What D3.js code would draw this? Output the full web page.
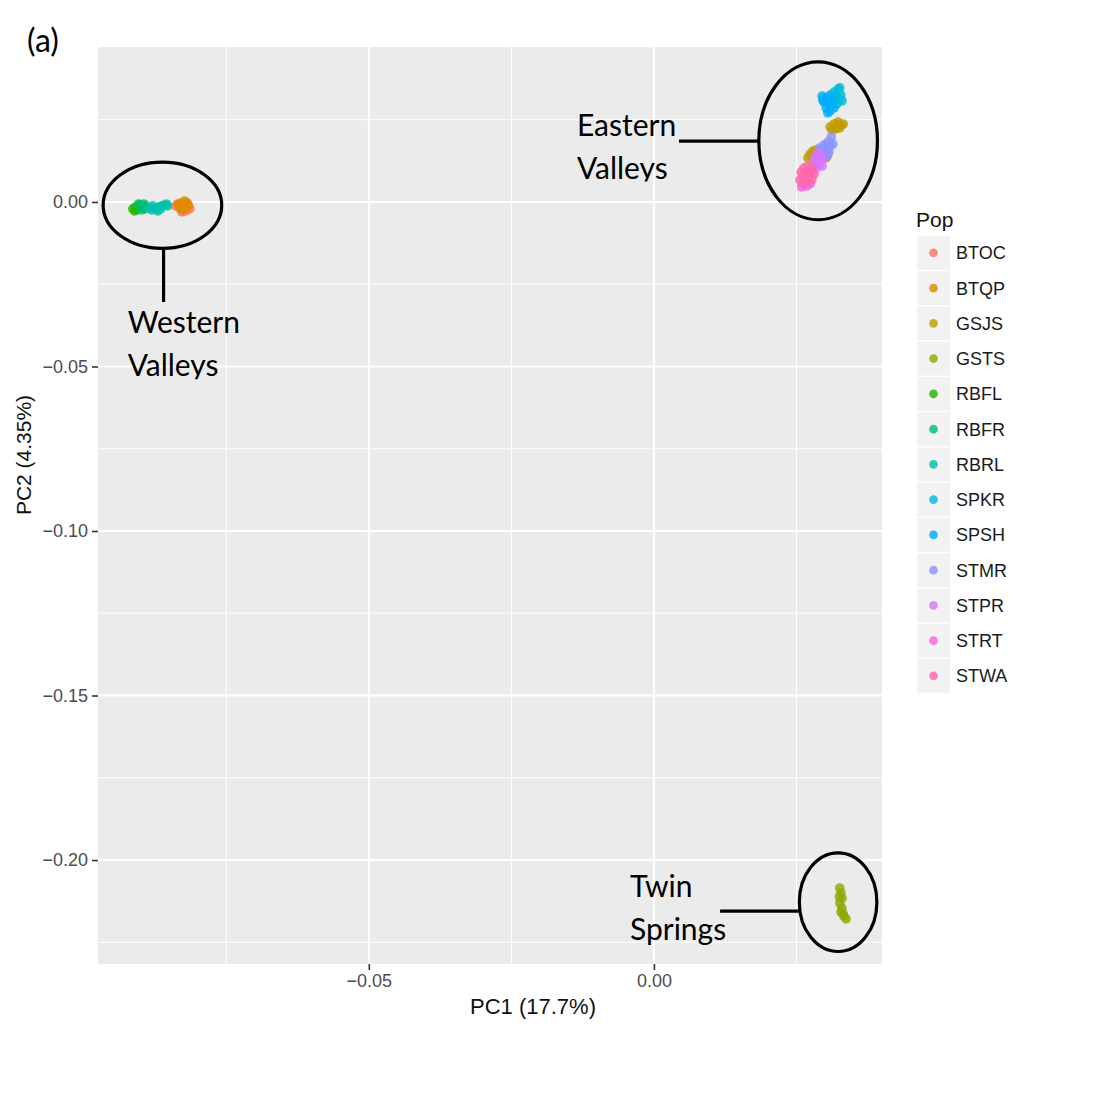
<!DOCTYPE html>
<html>
<head>
<meta charset="utf-8">
<script src="https://cdn.jsdelivr.net/npm/d3@7"></script>
<style>
  body { margin: 0; background: #fff; }
  svg { display: block; }
</style>
</head>
<body>
<svg id="chart" width="1110" height="1106"></svg>
<script>
// ---------------- DATA ----------------
const pops = ["BTOC","BTQP","GSJS","GSTS","RBFL","RBFR","RBRL","SPKR","SPSH","STMR","STPR","STRT","STWA"];
const popColors = ["#F8766D","#E18A00","#BE9C00","#8CAB00","#24B700","#00BE70","#00C1AB","#00BBDA","#00ACFC","#8B93FF","#D575FE","#F962DD","#FF65AC"];

// PC1 / PC2 scores per population
const BTOC_pc1 = [-0.0839,-0.0814,-0.0821,-0.0828];
const BTOC_pc2 = [-0.0012,-0.0021,-0.0027,-0.0030];
const BTQP_pc1 = [-0.0835,-0.0830,-0.0825,-0.0819,-0.0816,-0.0832,-0.0826,-0.0821,-0.0818,-0.0823];
const BTQP_pc2 = [-0.0006,-0.0003,-0.0009,-0.0003,-0.0012,-0.0018,-0.0024,-0.0018,-0.0006,0.0003];
const GSJS_pc1 = [0.0309,0.0316,0.0323,0.0328,0.0332,0.0319,0.0326,0.0312,0.0274,0.0279,0.0284,0.0270,0.0277,0.0288,0.0291,0.0302,0.0305,0.0281];
const GSJS_pc2 = [0.0228,0.0237,0.0243,0.0234,0.0237,0.0222,0.0225,0.0219,0.0146,0.0155,0.0158,0.0134,0.0134,0.0146,0.0140,0.0134,0.0143,0.0125];
const GSTS_pc1 = [0.0326,0.0328,0.0330,0.0326,0.0330,0.0328,0.0333,0.0337,0.0332,0.0325];
const GSTS_pc2 = [-0.2085,-0.2100,-0.2116,-0.2131,-0.2146,-0.2158,-0.2170,-0.2179,-0.2164,-0.2112];
const RBFL_pc1 = [-0.0914,-0.0909,-0.0904,-0.0907,-0.0900,-0.0911];
const RBFL_pc2 = [-0.0021,-0.0015,-0.0018,-0.0024,-0.0012,-0.0027];
const RBFR_pc1 = [-0.0902,-0.0896,-0.0891,-0.0898,-0.0893,-0.0904,-0.0895];
const RBFR_pc2 = [-0.0009,-0.0015,-0.0012,-0.0024,-0.0021,-0.0006,-0.0006];
const RBRL_pc1 = [-0.0884,-0.0879,-0.0874,-0.0868,-0.0863,-0.0858,-0.0853,-0.0870,-0.0865,-0.0855,-0.0881];
const RBRL_pc2 = [-0.0018,-0.0012,-0.0021,-0.0015,-0.0012,-0.0009,-0.0012,-0.0027,-0.0021,-0.0006,-0.0024];
const SPKR_pc1 = [0.0316,0.0323,0.0326,0.0319,0.0325,0.0328,0.0314,0.0321,0.0330];
const SPKR_pc2 = [0.0334,0.0343,0.0347,0.0322,0.0313,0.0325,0.0310,0.0298,0.0307];
const SPSH_pc1 = [0.0295,0.0302,0.0309,0.0298,0.0305,0.0312,0.0302,0.0309,0.0305,0.0316,0.0296];
const SPSH_pc2 = [0.0322,0.0316,0.0325,0.0304,0.0298,0.0304,0.0286,0.0277,0.0271,0.0286,0.0310];
const STMR_pc1 = [0.0311,0.0305,0.0298,0.0309,0.0314,0.0302,0.0295,0.0307,0.0298,0.0291,0.0304];
const STMR_pc2 = [0.0198,0.0182,0.0173,0.0170,0.0176,0.0161,0.0158,0.0152,0.0146,0.0164,0.0140];
const STPR_pc1 = [0.0286,0.0293,0.0282,0.0289,0.0296,0.0279,0.0288,0.0295,0.0284,0.0291];
const STPR_pc2 = [0.0149,0.0143,0.0134,0.0128,0.0128,0.0119,0.0112,0.0109,0.0103,0.0119];
const STRT_pc1 = [0.0261,0.0268,0.0265,0.0274,0.0259];
const STRT_pc2 = [0.0055,0.0049,0.0064,0.0055,0.0046];
const STWA_pc1 = [0.0263,0.0270,0.0277,0.0258,0.0267,0.0274,0.0281,0.0261,0.0270,0.0277,0.0267,0.0256];
const STWA_pc2 = [0.0103,0.0109,0.0103,0.0091,0.0091,0.0088,0.0085,0.0076,0.0073,0.0067,0.0061,0.0067];

const xMajorTicks = [-0.05, 0.00];
const xMinorTicks = [-0.075, -0.025, 0.025];
const yMajorTicks = [0.00, -0.05, -0.10, -0.15, -0.20];
const yMinorTicks = [0.025, -0.025, -0.075, -0.125, -0.175, -0.225];

const xTitle = "PC1 (17.7%)";
const yTitle = "PC2 (4.35%)";
const legendTitle = "Pop";
const panelTag = "(a)";

// ---------------- BUILD ----------------
const series = {
  BTOC:[BTOC_pc1,BTOC_pc2], BTQP:[BTQP_pc1,BTQP_pc2], GSJS:[GSJS_pc1,GSJS_pc2], GSTS:[GSTS_pc1,GSTS_pc2],
  RBFL:[RBFL_pc1,RBFL_pc2], RBFR:[RBFR_pc1,RBFR_pc2], RBRL:[RBRL_pc1,RBRL_pc2], SPKR:[SPKR_pc1,SPKR_pc2],
  SPSH:[SPSH_pc1,SPSH_pc2], STMR:[STMR_pc1,STMR_pc2], STPR:[STPR_pc1,STPR_pc2], STRT:[STRT_pc1,STRT_pc2],
  STWA:[STWA_pc1,STWA_pc2]
};
const points = [];
pops.forEach(p => {
  const [a, b] = series[p];
  a.forEach((v, i) => points.push({pop: p, pc1: v, pc2: b[i]}));
});

const svg = d3.select("#chart");
const P = {left: 98, right: 882, top: 47, bottom: 964};

const x = d3.scaleLinear().domain([-0.0975, 0.040]).range([P.left, P.right]);
const y = d3.scaleLinear().domain([0.0471, -0.2316]).range([P.top, P.bottom]);
const color = d3.scaleOrdinal().domain(pops).range(popColors);

// panel
svg.append("rect").attr("x", P.left).attr("y", P.top)
  .attr("width", P.right - P.left).attr("height", P.bottom - P.top).attr("fill", "#EBEBEB");

const grid = svg.append("g");
grid.selectAll(".xmin").data(xMinorTicks).join("line")
  .attr("x1", d => x(d)).attr("x2", d => x(d)).attr("y1", P.top).attr("y2", P.bottom)
  .attr("stroke", "#fff").attr("stroke-width", 1);
grid.selectAll(".ymin").data(yMinorTicks).join("line")
  .attr("y1", d => y(d)).attr("y2", d => y(d)).attr("x1", P.left).attr("x2", P.right)
  .attr("stroke", "#fff").attr("stroke-width", 1);
grid.selectAll(".xmaj").data(xMajorTicks).join("line")
  .attr("x1", d => x(d)).attr("x2", d => x(d)).attr("y1", P.top).attr("y2", P.bottom)
  .attr("stroke", "#fff").attr("stroke-width", 2);
grid.selectAll(".ymaj").data(yMajorTicks).join("line")
  .attr("y1", d => y(d)).attr("y2", d => y(d)).attr("x1", P.left).attr("x2", P.right)
  .attr("stroke", "#fff").attr("stroke-width", 2);

// axes
const fmt = d3.format(".2f");
const xAxis = svg.append("g").attr("transform", `translate(0,${P.bottom})`)
  .call(d3.axisBottom(x).tickValues(xMajorTicks).tickFormat(fmt).tickSize(6).tickPadding(4));
const yAxis = svg.append("g").attr("transform", `translate(${P.left},0)`)
  .call(d3.axisLeft(y).tickValues(yMajorTicks).tickFormat(fmt).tickSize(6).tickPadding(4));
[xAxis, yAxis].forEach(g => {
  g.select(".domain").remove();
  g.selectAll(".tick line").attr("stroke", "#333").attr("stroke-width", 1.6);
  g.selectAll(".tick text").attr("fill", "#4D4D4D")
    .style("font-family", "'Liberation Sans', Arial, sans-serif").style("font-size", "18px");
});

svg.append("text").attr("x", 533).attr("y", 1014).attr("text-anchor", "middle")
  .style("font-family", "'Liberation Sans', Arial, sans-serif").style("font-size", "22px")
  .attr("fill", "#111").text(xTitle);
svg.append("text").attr("transform", "translate(31,455) rotate(-90)").attr("text-anchor", "middle")
  .style("font-family", "'Liberation Sans', Arial, sans-serif").style("font-size", "21px")
  .attr("fill", "#111").text(yTitle);

// points
svg.append("g").selectAll("circle").data(points).join("circle")
  .attr("cx", d => x(d.pc1)).attr("cy", d => y(d.pc2)).attr("r", 4.8)
  .attr("fill", d => color(d.pop)).attr("fill-opacity", 0.82);

// legend
const lg = svg.append("g");
lg.append("text").attr("x", 916).attr("y", 227)
  .style("font-family", "'Liberation Sans', Arial, sans-serif").style("font-size", "21px")
  .attr("fill", "#111").text(legendTitle);
const pitch = 35.25;
const items = lg.selectAll(".item").data(pops).join("g")
  .attr("transform", (d, i) => `translate(917,${236 + i * pitch})`);
items.append("rect").attr("width", 33).attr("height", pitch - 1.5).attr("fill", "#F2F2F2");
items.append("circle").attr("cx", 16.5).attr("cy", (pitch - 1.5) / 2).attr("r", 4.3)
  .attr("fill", d => color(d)).attr("fill-opacity", 0.82);
items.append("text").attr("x", 39).attr("y", (pitch - 1.5) / 2 + 6.5)
  .style("font-family", "'Liberation Sans', Arial, sans-serif").style("font-size", "18px")
  .attr("fill", "#1a1a1a").text(d => d);

// panel tag
svg.append("text").attr("x", 27).attr("y", 52)
  .style("font-family", "Lato, 'Open Sans', sans-serif").style("font-size", "32px")
  .attr("fill", "#000").text(panelTag);

// callouts (ellipses + leader lines + labels), placed in data units
const callouts = [
  {lines: ["Western", "Valleys"], cx: -0.0862, cy: -0.0010, rx: 0.0104, ry: 0.0131,
   lead: [[-0.0860, -0.0144], [-0.0860, -0.0304]], tx: -0.0923, ty: [-0.0398, -0.0530], clip: true},
  {lines: ["Eastern", "Valleys"], cx: 0.0288, cy: 0.0186, rx: 0.0104, ry: 0.0240,
   lead: [[0.0044, 0.0185], [0.0184, 0.0185]], tx: -0.0135, ty: [0.0201, 0.0071], clip: true},
  {lines: ["Twin", "Springs"], cx: 0.0323, cy: -0.2128, rx: 0.0068, ry: 0.0150,
   lead: [[0.0116, -0.2155], [0.0256, -0.2155]], tx: -0.0042, ty: [-0.2112, -0.2243], clip: false}
];
const ann = svg.append("g");
callouts.forEach((c, k) => {
  ann.append("ellipse").attr("cx", x(c.cx)).attr("cy", y(c.cy))
    .attr("rx", x(c.cx + c.rx) - x(c.cx)).attr("ry", y(c.cy - c.ry) - y(c.cy))
    .attr("fill", "none").attr("stroke", "#000").attr("stroke-width", 3.2);
  ann.append("line").attr("x1", x(c.lead[0][0])).attr("y1", y(c.lead[0][1]))
    .attr("x2", x(c.lead[1][0])).attr("y2", y(c.lead[1][1]))
    .attr("stroke", "#000").attr("stroke-width", 3.2);
  c.lines.forEach((t, j) => {
    const tx = ann.append("text").attr("x", x(c.tx)).attr("y", y(c.ty[j]))
      .style("font-family", "Lato, 'Open Sans', sans-serif").style("font-size", "30px")
      .attr("fill", "#000").text(t);
    if (c.clip && j === 1) {
      const id = "clip" + k;
      svg.append("clipPath").attr("id", id).append("rect")
        .attr("x", x(c.tx) - 5).attr("y", y(c.ty[j]) - 40).attr("width", 200).attr("height", 43);
      tx.attr("clip-path", `url(#${id})`);
    }
  });
});
</script>
</body>
</html>
